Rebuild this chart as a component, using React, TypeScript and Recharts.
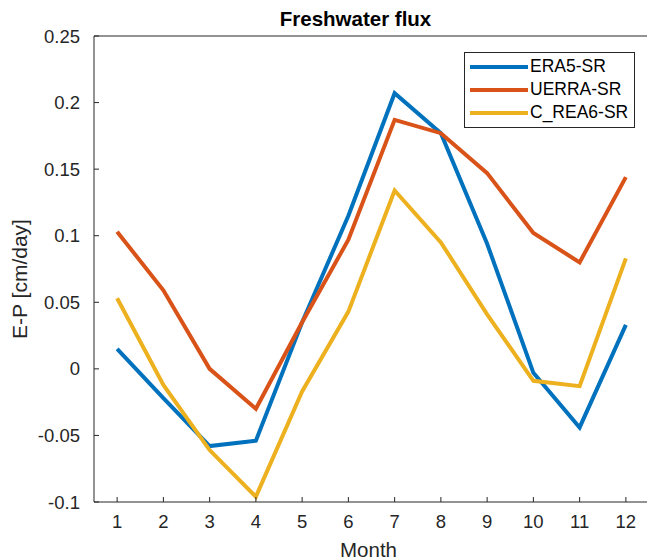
import React from 'react';
import { LineChart, Line, XAxis, YAxis, Label, Legend } from 'recharts';

// Monthly mean freshwater flux (evaporation minus precipitation), cm/day
const months = [1, 2, 3, 4, 5, 6, 7, 8, 9, 10, 11, 12];
const era5Sr = [0.015, -0.022, -0.058, -0.054, 0.035, 0.115, 0.207, 0.177, 0.094, -0.003, -0.044, 0.033];
const uerraSr = [0.103, 0.059, 0.0, -0.03, 0.035, 0.097, 0.187, 0.177, 0.147, 0.102, 0.08, 0.144];
const cRea6Sr = [0.053, -0.012, -0.061, -0.096, -0.017, 0.043, 0.134, 0.095, 0.041, -0.009, -0.013, 0.083];
const yTicks = [-0.1, -0.05, 0, 0.05, 0.1, 0.15, 0.2, 0.25];

const seriesInfo = [
  { key: 'era5', name: 'ERA5-SR', color: '#0072BD' },
  { key: 'uerra', name: 'UERRA-SR', color: '#D95319' },
  { key: 'crea6', name: 'C_REA6-SR', color: '#EDB120' },
];

const data = months.map((m, i) => ({
  month: m,
  era5: era5Sr[i],
  uerra: uerraSr[i],
  crea6: cRea6Sr[i],
}));

const FONT = '"Liberation Sans", Arial, Helvetica, sans-serif';
const AXIS = '#262626';

const fmt = (v: number) => String(Number(v.toFixed(2)));

const YTitle = (props: any) => {
  const vb = props.viewBox || {};
  const cx = 19;
  const cy = vb.y + vb.height / 2 + 10;
  return (
    <text
      x={cx}
      y={cy}
      transform={`rotate(-90, ${cx}, ${cy})`}
      textAnchor="middle"
      dominantBaseline="central"
      fontFamily={FONT}
      fontSize={21}
      fill={AXIS}
    >
      E-P [cm/day]
    </text>
  );
};

const ChartTitle = (props: any) => {
  const vb = props.viewBox || {};
  return (
    <text
      x={vb.x + vb.width / 2 - 16}
      y={26}
      textAnchor="middle"
      fontFamily={FONT}
      fontSize={20.5}
      fontWeight="bold"
      fill="#000"
    >
      Freshwater flux
    </text>
  );
};

const LegendBox = () => (
  <div
    style={{
      border: '1px solid #262626',
      background: '#fff',
      padding: '2px 6px 3px 5px',
      fontFamily: FONT,
      fontSize: 17.5,
      color: '#000',
      lineHeight: '23px',
    }}
  >
    {seriesInfo.map((s) => (
      <div key={s.key} style={{ display: 'flex', alignItems: 'center' }}>
        <span style={{ display: 'inline-block', width: 58, height: 4, background: s.color, marginRight: 2 }} />
        <span>{s.name}</span>
      </div>
    ))}
  </div>
);

export default function App() {
  return (
    <div style={{ position: 'absolute', left: 0, top: 0, width: 647, height: 560, overflow: 'hidden', background: '#fff' }}>
      <LineChart width={650} height={560} data={data} margin={{ top: 35, right: 0, bottom: 0, left: 0 }}>
        <XAxis
          dataKey="month"
          type="number"
          domain={[0.5, 12.5]}
          ticks={months}
          height={58}
          tickSize={-5}
          tickMargin={18}
          stroke={AXIS}
          tick={{ fill: AXIS, fontSize: 18.5, fontFamily: FONT }}
          allowDataOverflow
        >
          <Label value="Month" position="insideBottom" offset={3} dx={-3} fill={AXIS} fontSize={20.5} fontFamily={FONT} />
        </XAxis>
        <XAxis
          xAxisId="top"
          orientation="top"
          type="number"
          domain={[0.5, 12.5]}
          ticks={months}
          height={1}
          tickSize={-5}
          tick={false}
          stroke={AXIS}
          allowDataOverflow
        >
          <Label content={<ChartTitle />} />
        </XAxis>
        <YAxis
          type="number"
          domain={[-0.1, 0.25]}
          ticks={yTicks}
          width={94}
          tickSize={-5}
          tickMargin={19}
          tickFormatter={fmt}
          stroke={AXIS}
          tick={{ fill: AXIS, fontSize: 18.5, fontFamily: FONT }}
          allowDataOverflow
        >
          <Label content={<YTitle />} />
        </YAxis>
        <YAxis
          yAxisId="right"
          orientation="right"
          type="number"
          domain={[-0.1, 0.25]}
          ticks={yTicks}
          width={1}
          tickSize={-5}
          tick={false}
          stroke={AXIS}
          allowDataOverflow
        />
        <Legend
          content={<LegendBox />}
          layout="horizontal"
          verticalAlign="middle"
          align="center"
          wrapperStyle={{ position: 'absolute', top: 52, left: 464, width: 'auto', right: 'auto', bottom: 'auto' }}
        />
        {seriesInfo.map((s) => (
          <Line
            key={s.key}
            type="linear"
            dataKey={s.key}
            name={s.name}
            stroke={s.color}
            strokeWidth={4}
            dot={false}
            activeDot={false}
            isAnimationActive={false}
          />
        ))}
      </LineChart>
    </div>
  );
}
